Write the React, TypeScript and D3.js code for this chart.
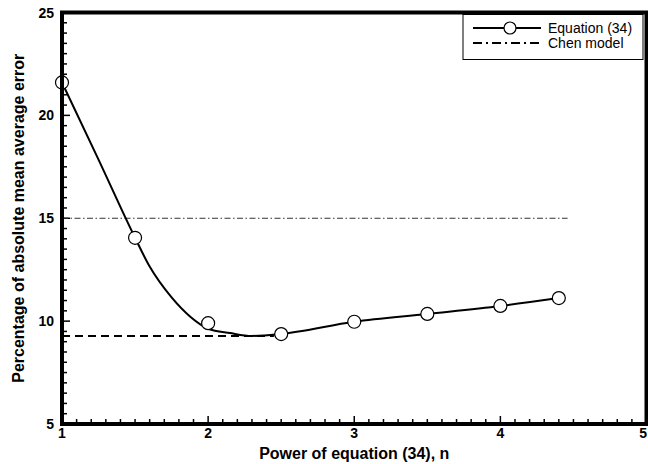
import React from 'react';
import * as d3 from 'd3';

// measured points of equation (34)
const markerN = [1, 1.5, 2, 2.5, 3, 3.5, 4, 4.4];
const markerErr = [21.6, 14.05, 9.9, 9.37, 9.97, 10.35, 10.74, 11.12];

// smooth fitted line through them
const fitN = [1, 1.25, 1.5, 1.6, 1.75, 1.88, 2.0, 2.15, 2.3, 2.5, 3, 3.5, 4, 4.4];
const fitErr = [21.6, 17.85, 14.05, 12.65, 11.15, 10.2, 9.63, 9.42, 9.28, 9.38, 9.97, 10.35, 10.74, 11.12];

// Chen model level and the lower reference line
const chenN = [1, 4.46];
const chenErr = [15, 15];
const minN = [1, 2.45];
const minErr = [9.28, 9.28];

const xTicks = [1, 2, 3, 4, 5];
const yTicks = [5, 10, 15, 20, 25];

const W = 648, H = 464;
const left = 62, right = 646.5, top = 12.5, bottom = 424;

const App = () => {
  const x = d3.scaleLinear().domain([1, 5]).range([left, right]);
  const y = d3.scaleLinear().domain([5, 25]).range([bottom, top]);

  const fitLine = d3.line<number>()
    .x((_, i) => x(fitN[i]))
    .y(d => y(d))
    .curve(d3.curveMonotoneX);

  const xMinor = d3.range(10, 50).map(v => v / 10).filter(v => v % 1 !== 0);
  const yMinor = d3.range(10, 50).map(v => v / 2).filter(v => v % 5 !== 0);

  const font = 'Arial, "Liberation Sans", Helvetica, sans-serif';

  return (
    <svg width={W} height={H} style={{ position: 'absolute', left: 0, top: 0, fontFamily: font }}>
      <rect x={0} y={0} width={W} height={H} fill="#fff" />

      {/* minor + major ticks, pointing inward */}
      {xMinor.map(v => (
        <line key={'xm' + v} x1={x(v)} x2={x(v)} y1={bottom} y2={bottom - 5} stroke="#000" strokeWidth={1.5} />
      ))}
      {xTicks.map(v => (
        <line key={'xM' + v} x1={x(v)} x2={x(v)} y1={bottom} y2={bottom - 8} stroke="#000" strokeWidth={1.5} />
      ))}
      {yMinor.map(v => (
        <line key={'ym' + v} x1={left} x2={left + 5} y1={y(v)} y2={y(v)} stroke="#000" strokeWidth={1.5} />
      ))}
      {yTicks.map(v => (
        <line key={'yM' + v} x1={left} x2={left + 8} y1={y(v)} y2={y(v)} stroke="#000" strokeWidth={1.5} />
      ))}

      {/* Chen model (dash-dot) */}
      <line x1={x(chenN[0])} x2={x(chenN[1])} y1={y(chenErr[0])} y2={y(chenErr[1])}
        stroke="#333" strokeWidth={1} strokeDasharray="6,2.5,1.5,2.5" />
      {/* lower dashed level */}
      <line x1={x(minN[0])} x2={x(minN[1])} y1={y(minErr[0])} y2={y(minErr[1])}
        stroke="#000" strokeWidth={2} strokeDasharray="8,5" />

      <path d={fitLine(fitErr) || ''} fill="none" stroke="#000" strokeWidth={2} />
      {markerN.map((n, i) => (
        <circle key={'p' + i} cx={x(n)} cy={y(markerErr[i])} r={6.5} fill="#fff" stroke="#000" strokeWidth={1.2} />
      ))}

      {/* frame */}
      <rect x={left} y={top} width={right - left} height={bottom - top} fill="none" stroke="#000" strokeWidth={4} />

      {/* tick labels; the last one is kept inside the page edge */}
      {xTicks.map((v, i) => (
        <text key={'xl' + v} x={i === xTicks.length - 1 ? W - 1 : x(v)} y={438}
          textAnchor={i === xTicks.length - 1 ? 'end' : 'middle'} fontSize={14} fontWeight="bold">{v}</text>
      ))}
      {yTicks.map(v => (
        <text key={'yl' + v} x={54} y={y(v)} textAnchor="end" dominantBaseline="central" fontSize={14} fontWeight="bold">{v}</text>
      ))}

      {/* axis titles */}
      <text x={(left + right) / 2} y={459} textAnchor="middle" fontSize={16} fontWeight="bold">Power of equation (34), n</text>
      <text transform={`translate(24, ${(top + bottom) / 2}) rotate(-90)`} textAnchor="middle" fontSize={16} fontWeight="bold">
        Percentage of absolute mean average error
      </text>

      {/* legend */}
      <g>
        <rect x={463} y={14.5} width={180} height={45} fill="#fff" stroke="#000" strokeWidth={1} />
        <line x1={473} x2={541} y1={28} y2={28} stroke="#000" strokeWidth={2} />
        <circle cx={510} cy={28} r={6} fill="#fff" stroke="#000" strokeWidth={1.2} />
        <text x={548} y={28} dominantBaseline="central" fontSize={14}>Equation (34)</text>
        <line x1={473} x2={541} y1={43} y2={43} stroke="#000" strokeWidth={2} strokeDasharray="9,4,2,4" />
        <text x={548} y={43} dominantBaseline="central" fontSize={14}>Chen model</text>
      </g>
    </svg>
  );
};

export default App;
